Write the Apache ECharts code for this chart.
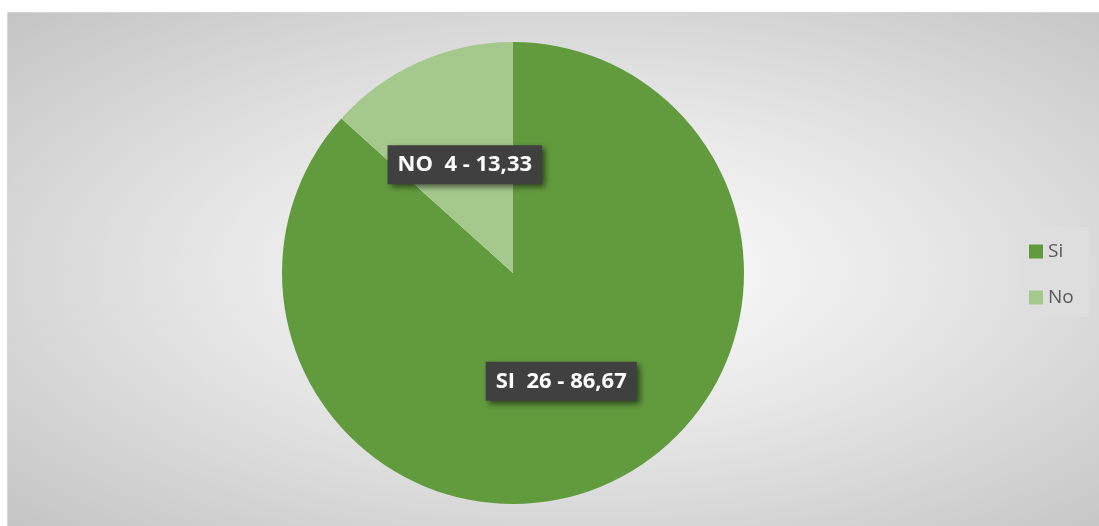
<!DOCTYPE html>
<html>
<head>
<meta charset="utf-8">
<script src="https://cdn.jsdelivr.net/npm/echarts@6/dist/echarts.min.js"></script>
<style>
  html, body { margin: 0; padding: 0; background: #ffffff; }
  #chart {
    position: absolute;
    left: 7px;
    top: 12px;
    width: 1092px;
    height: 514px;
    border-top: 1px solid #d4d4d4;
    border-left: 1px solid #d8d8d8;
    background: radial-gradient(ellipse farthest-corner at 52% 50%, #ffffff 0%, #e6e6e6 45%, #c4c4c4 100%);
  }
</style>
</head>
<body>
<div id="chart"></div>
<script>
  // datos
  var categories = ['Si', 'No']
  var labelNames = ['SI', 'NO']
  var counts = [26, 4]
  var percents = ['86,67', '13,33']
  var colors = ['#629b3e', '#a5c98d']

  var chart = echarts.init(document.getElementById('chart'))

  var option = {
    backgroundColor: 'transparent',
    legend: {
      orient: 'vertical',
      left: 1009,
      top: 214,
      padding: [15, 15, 10, 12],
      backgroundColor: '#dedede',
      itemWidth: 14,
      itemHeight: 14,
      itemGap: 27,
      icon: 'rect',
      textStyle: {
        color: '#595959',
        fontSize: 19,
        fontFamily: 'Open Sans'
      },
      data: categories
    },
    series: [
      {
        type: 'pie',
        center: [505, 260],
        radius: 231,
        startAngle: 90,
        clockwise: true,
        silent: true,
        label: {
          show: true,
          position: 'inside',
          formatter: function (p) {
            var i = p.dataIndex
            return labelNames[i] + '  ' + counts[i] + ' - ' + percents[i]
          },
          color: '#ffffff',
          fontFamily: 'Open Sans',
          fontWeight: 'bold',
          fontSize: 22,
          backgroundColor: '#404040',
          padding: [9, 10, 8, 10],
          shadowColor: 'rgba(0,0,0,0.55)',
          shadowBlur: 6,
          shadowOffsetX: 3,
          shadowOffsetY: 3
        },
        labelLine: { show: false },
        data: categories.map(function (c, i) {
          return {
            name: c,
            value: counts[i],
            itemStyle: { color: colors[i] }
          }
        })
      }
    ]
  }

  chart.setOption(option)
</script>
</body>
</html>
